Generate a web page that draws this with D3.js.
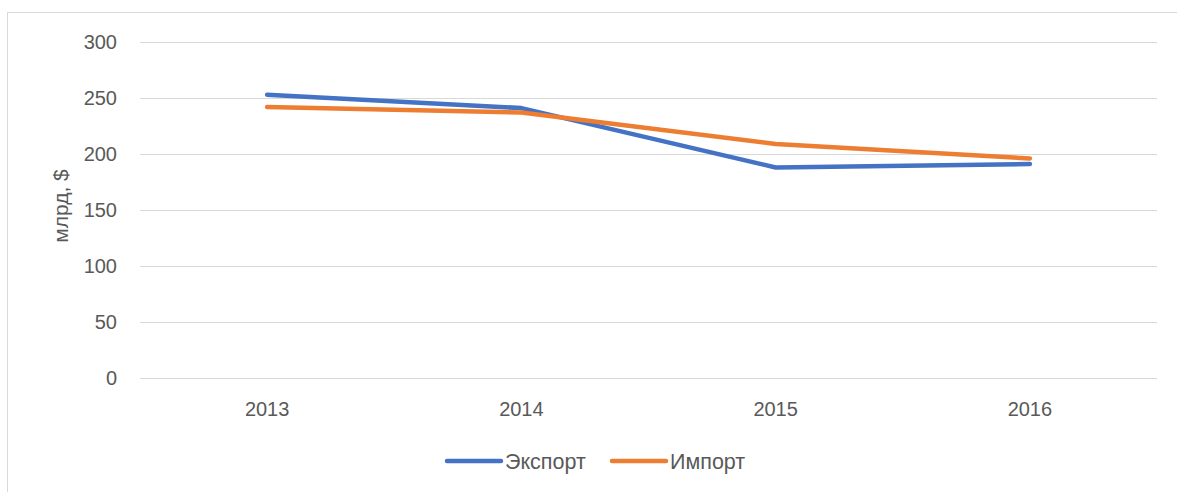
<!DOCTYPE html>
<html>
<head>
<meta charset="utf-8">
<script src="https://cdn.jsdelivr.net/npm/d3@7"></script>
<style>
  body { margin: 0; background: #fff; }
  svg text { font-family: "Liberation Sans", Arial, sans-serif; fill: #595959; }
</style>
</head>
<body>
<svg id="chart" width="1177" height="492"></svg>
<script>
// Data
const years = ['2013', '2014', '2015', '2016'];
const exportValues = [253, 241, 188, 191];
const importValues = [242, 237, 209, 196];
const yTicks = [0, 50, 100, 150, 200, 250, 300];
const seriesNames = ['Экспорт', 'Импорт'];
const seriesColors = ['#4472C4', '#ED7D31'];

const svg = d3.select('#chart');
const margin = { left: 140, right: 20, top: 42, bottom: 114 };
const width = 1177, height = 492;

// Outer chart border
svg.append('rect')
  .attr('x', 7.5).attr('y', 12.5)
  .attr('width', 1200).attr('height', 600)
  .attr('fill', 'none')
  .attr('stroke', '#d9d9d9');

const x = d3.scaleBand()
  .domain(years)
  .range([margin.left, width - margin.right]);

const y = d3.scaleLinear()
  .domain([0, 300])
  .range([height - margin.bottom, margin.top]);

// Gridlines
svg.append('g')
  .selectAll('line')
  .data(yTicks)
  .join('line')
  .attr('x1', margin.left)
  .attr('x2', width - margin.right)
  .attr('y1', d => Math.round(y(d)) + 0.5)
  .attr('y2', d => Math.round(y(d)) + 0.5)
  .attr('stroke', '#d9d9d9')
  .attr('stroke-width', 1);

// Y tick labels
svg.append('g')
  .selectAll('text')
  .data(yTicks)
  .join('text')
  .attr('x', 117)
  .attr('y', d => y(d))
  .attr('dy', '0.35em')
  .attr('text-anchor', 'end')
  .style('font-size', '20px')
  .text(d => d);

// X labels
svg.append('g')
  .selectAll('text')
  .data(years)
  .join('text')
  .attr('x', d => x(d) + x.bandwidth() / 2)
  .attr('y', 409)
  .attr('dy', '0.35em')
  .attr('text-anchor', 'middle')
  .style('font-size', '20px')
  .text(d => d);

// Y axis title
svg.append('text')
  .attr('transform', 'translate(61,206) rotate(-90)')
  .attr('dy', '0.35em')
  .attr('text-anchor', 'middle')
  .style('font-size', '21px')
  .text('млрд, $');

// Lines
const line = d3.line()
  .x((d, i) => x(years[i]) + x.bandwidth() / 2)
  .y(d => y(d));

[exportValues, importValues].forEach((values, i) => {
  svg.append('path')
    .datum(values)
    .attr('d', line)
    .attr('fill', 'none')
    .attr('stroke', seriesColors[i])
    .attr('stroke-width', 4.5)
    .attr('stroke-linecap', 'round')
    .attr('stroke-linejoin', 'round');
});

// Legend
const legendX = [447, 612];
const legend = svg.append('g');
seriesNames.forEach((name, i) => {
  legend.append('line')
    .attr('x1', legendX[i]).attr('x2', legendX[i] + 54)
    .attr('y1', 461).attr('y2', 461)
    .attr('stroke', seriesColors[i])
    .attr('stroke-width', 4.5)
    .attr('stroke-linecap', 'round');
  legend.append('text')
    .attr('x', legendX[i] + 58)
    .attr('y', 461)
    .attr('dy', '0.35em')
    .style('font-size', '21.5px')
    .text(name);
});
</script>
</body>
</html>
